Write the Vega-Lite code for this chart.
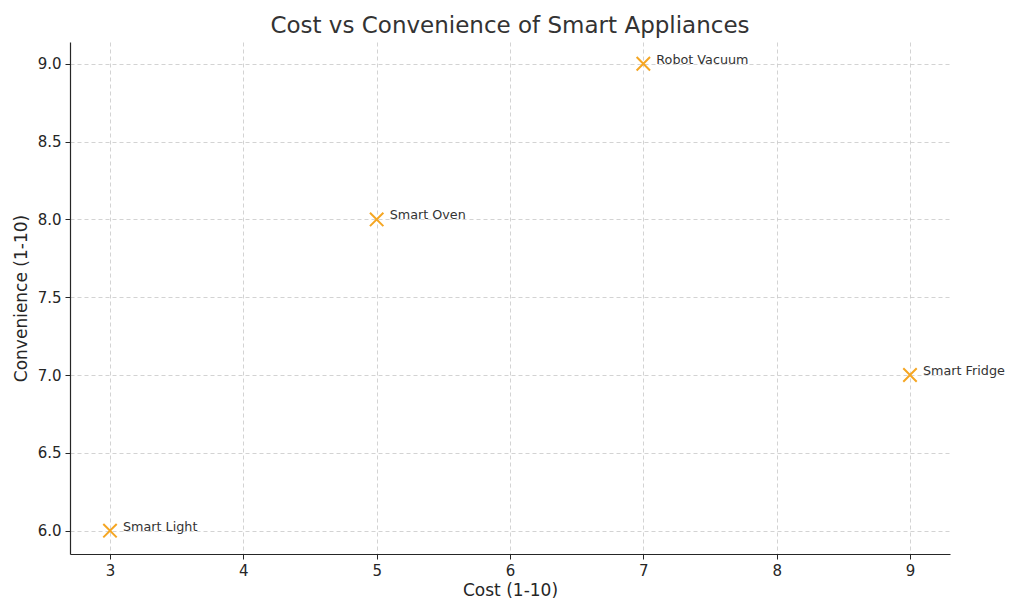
{
  "$schema": "https://vega.github.io/schema/vega-lite/v6.json",
  "width": 880,
  "height": 512,
  "autosize": {"type": "none"},
  "padding": {"left": 70, "top": 42, "right": 74, "bottom": 60},
  "background": "white",
  "config": {
    "view": {"stroke": null},
    "font": "DejaVu Sans",
    "axis": {
      "domainColor": "#262626",
      "domainWidth": 1.2,
      "tickColor": "#262626",
      "tickSize": 5,
      "labelColor": "#262626",
      "labelFontSize": 15,
      "labelFont": "DejaVu Sans",
      "titleFont": "DejaVu Sans",
      "titleFontSize": 17,
      "titleFontWeight": "normal",
      "titleColor": "#262626",
      "gridColor": "#c8c8c8",
      "gridDash": [4, 3],
      "gridWidth": 0.8
    }
  },
  "title": {
    "text": "Cost vs Convenience of Smart Appliances",
    "fontSize": 23,
    "fontWeight": "normal",
    "color": "#333333",
    "font": "DejaVu Sans",
    "anchor": "middle",
    "offset": 4
  },
  "data": {
    "values": [
      {"name": "Smart Light", "cost": 3, "convenience": 6},
      {"name": "Smart Oven", "cost": 5, "convenience": 8},
      {"name": "Robot Vacuum", "cost": 7, "convenience": 9},
      {"name": "Smart Fridge", "cost": 9, "convenience": 7}
    ]
  },
  "encoding": {
    "x": {
      "field": "cost",
      "type": "quantitative",
      "scale": {"domain": [2.7, 9.3], "nice": false, "zero": false},
      "axis": {"title": "Cost (1-10)", "values": [3, 4, 5, 6, 7, 8, 9], "format": "d", "titlePadding": 4, "labelPadding": 4}
    },
    "y": {
      "field": "convenience",
      "type": "quantitative",
      "scale": {"domain": [5.85, 9.14], "nice": false, "zero": false},
      "axis": {"title": "Convenience (1-10)", "values": [6, 6.5, 7, 7.5, 8, 8.5, 9], "format": ".1f", "titlePadding": 7, "labelPadding": 4}
    }
  },
  "layer": [
    {
      "mark": {"type": "point", "shape": "M-1,-1L1,1M1,-1L-1,1", "filled": false, "size": 180, "strokeWidth": 2, "color": "#F5A623", "opacity": 1}
    },
    {
      "mark": {"type": "text", "align": "left", "baseline": "middle", "dx": 13, "dy": -4, "fontSize": 12.75, "color": "#333333", "font": "DejaVu Sans"},
      "encoding": {"text": {"field": "name"}}
    }
  ]
}
